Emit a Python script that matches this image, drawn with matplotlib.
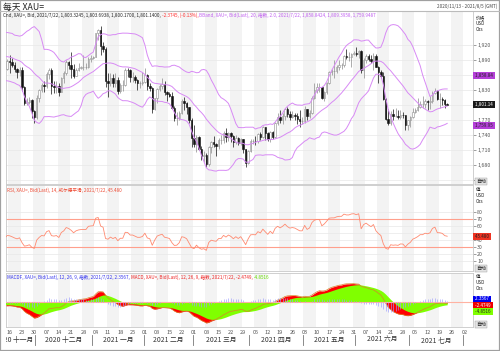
import numpy as np
import pandas as pd
from matplotlib import pyplot as plt
from matplotlib.patches import Rectangle
from matplotlib.lines import Line2D
from matplotlib.ticker import FuncFormatter

plt.rcParams['font.family'] = ['Noto Sans CJK SC', 'DejaVu Sans']

# ---- data: XAU= daily bars ----
# closes before the visible window (2020-09-01 .. 2020-11-12), only used to seed the indicators
warmup_close = [1970, 1944, 1930, 1934, 1932, 1930, 1947, 1946, 1940, 1956, 1954, 1960, 1943, 1950,
                1912, 1900, 1863, 1868, 1861, 1881, 1898, 1886,
                1906, 1900, 1913, 1877, 1887, 1893, 1930, 1922, 1891, 1901, 1908, 1899, 1905, 1906,
                1924, 1904, 1902, 1902, 1908, 1877, 1868, 1878,
                1894, 1909, 1904, 1949, 1951, 1862, 1877, 1866, 1873]
first_day = '2020-11-13'
last_day = '2021-08-05'

open_ = [1873, 1889, 1887, 1880, 1872, 1866, 1871, 1837, 1805, 1807, 1811, 1788,
         1776, 1815, 1830, 1841, 1838, 1863, 1870, 1839, 1836, 1839, 1827, 1854, 1864, 1886, 1881, 1872,
         1859, 1870, 1875, 1877, 1877, 1877, 1893,
         1895, 1896, 1944, 1950, 1918, 1913, 1849, 1844, 1855, 1845, 1851, 1828, 1840, 1840, 1871, 1870,
         1856, 1856, 1850, 1844, 1844,
         1847, 1860, 1838, 1834, 1793, 1814, 1833, 1838, 1842, 1826, 1823, 1819, 1794, 1774, 1775, 1784,
         1808, 1805, 1797, 1770,
         1734, 1723, 1737, 1713, 1698, 1700, 1683, 1716, 1727, 1722, 1719, 1731, 1731, 1745, 1736, 1745,
         1738, 1726, 1734, 1725, 1732, 1712, 1685,
         1708, 1728, 1729, 1728, 1743, 1737, 1756, 1744, 1732, 1747, 1736, 1764, 1777, 1770, 1779, 1793,
         1783, 1777, 1780, 1778, 1773, 1768,
         1768, 1792, 1778, 1785, 1815, 1831, 1836, 1836, 1815, 1826, 1844, 1867, 1869, 1869, 1877, 1881,
         1881, 1898, 1896, 1896, 1903,
         1905, 1903, 1909, 1871, 1891, 1899, 1893, 1888, 1898, 1877, 1866, 1858, 1812, 1773, 1764, 1782,
         1778, 1779, 1776, 1781, 1780, 1761,
         1770, 1776, 1787, 1791, 1796, 1803, 1803, 1808, 1806, 1809, 1824, 1829, 1812, 1812, 1810, 1803.32]
high = [1892, 1900, 1894, 1886, 1875, 1876, 1876, 1839, 1815, 1817, 1812, 1790,
        1820, 1832, 1845, 1848, 1866, 1875, 1875, 1849, 1848, 1844, 1857, 1868, 1890, 1889, 1906, 1882,
        1875, 1884, 1879, 1900, 1885, 1896, 1900,
        1898, 1945, 1952, 1959, 1926, 1917, 1865, 1864, 1863, 1865, 1857, 1845, 1850, 1875, 1875, 1872,
        1867, 1860, 1853, 1849, 1866,
        1875, 1862, 1845, 1837, 1815, 1834, 1843, 1855, 1848, 1829, 1827, 1826, 1798, 1786, 1789, 1812,
        1816, 1807, 1797, 1775,
        1760, 1740, 1739, 1718, 1709, 1704, 1719, 1729, 1739, 1725, 1734, 1741, 1748, 1755, 1747, 1746,
        1741, 1740, 1737, 1735, 1732, 1713, 1710,
        1732, 1732, 1738, 1745, 1746, 1758, 1756, 1747, 1748, 1748, 1766, 1784, 1790, 1785, 1794, 1797,
        1789, 1789, 1784, 1784, 1790, 1776,
        1798, 1793, 1791, 1818, 1844, 1845, 1844, 1837, 1829, 1846, 1869, 1872, 1890, 1880, 1890, 1885,
        1900, 1913, 1906, 1905, 1909,
        1916, 1910, 1910, 1894, 1903, 1903, 1900, 1904, 1903, 1879, 1870, 1866, 1815, 1793, 1788, 1792,
        1795, 1790, 1791, 1786, 1781, 1771,
        1779, 1795, 1795, 1815, 1809, 1818, 1812, 1810, 1818, 1829, 1834, 1831, 1825, 1817, 1813, 1803.69]
low = [1871, 1864, 1876, 1866, 1855, 1859, 1829, 1801, 1800, 1803, 1775, 1764,
       1773, 1806, 1826, 1826, 1835, 1853, 1823, 1825, 1824, 1819, 1826, 1845, 1860, 1873, 1855, 1855,
       1858, 1868, 1873, 1870, 1872, 1874, 1887,
       1893, 1896, 1931, 1901, 1907, 1836, 1817, 1838, 1836, 1837, 1822, 1825, 1829, 1838, 1856, 1846,
       1846, 1845, 1831, 1834, 1840,
       1845, 1830, 1828, 1785, 1791, 1805, 1828, 1833, 1821, 1808, 1816, 1793, 1769, 1761, 1771, 1782,
       1790, 1782, 1765, 1717,
       1717, 1706, 1711, 1690, 1687, 1676, 1678, 1705, 1717, 1699, 1712, 1723, 1725, 1727, 1728, 1727,
       1717, 1723, 1721, 1720, 1705, 1677, 1683,
       1706, 1722, 1720, 1724, 1731, 1735, 1731, 1728, 1727, 1732, 1734, 1760, 1764, 1762, 1771, 1776,
       1770, 1774, 1771, 1763, 1756, 1762,
       1765, 1771, 1775, 1783, 1813, 1825, 1826, 1813, 1809, 1822, 1842, 1860, 1855, 1865, 1870, 1872,
       1877, 1892, 1889, 1877, 1900,
       1899, 1894, 1865, 1855, 1885, 1889, 1884, 1870, 1876, 1845, 1855, 1811, 1770, 1760, 1761, 1770,
       1776, 1772, 1772, 1775, 1750, 1751,
       1757, 1775, 1785, 1789, 1794, 1794, 1795, 1791, 1793, 1805, 1822, 1810, 1794, 1801, 1794, 1800.17]
close = [1889, 1887, 1880, 1872, 1866, 1871, 1837, 1805, 1807, 1811, 1788, 1776,
         1815, 1830, 1841, 1838, 1863, 1870, 1839, 1836, 1839, 1827, 1854, 1864, 1886, 1881, 1872, 1859,
         1870, 1875, 1877, 1877, 1877, 1893, 1895,
         1896, 1944, 1950, 1918, 1913, 1849, 1844, 1855, 1845, 1851, 1828, 1840, 1840, 1871, 1870, 1856,
         1856, 1850, 1844, 1844, 1847,
         1860, 1838, 1834, 1793, 1814, 1833, 1838, 1842, 1826, 1823, 1819, 1794, 1774, 1775, 1784, 1808,
         1805, 1797, 1770, 1734,
         1723, 1737, 1713, 1698, 1700, 1683, 1716, 1727, 1722, 1719, 1731, 1731, 1745, 1736, 1745, 1738,
         1726, 1734, 1725, 1732, 1712, 1685, 1708,
         1728, 1729, 1728, 1743, 1737, 1756, 1744, 1732, 1747, 1736, 1764, 1777, 1770, 1779, 1793, 1783,
         1777, 1780, 1778, 1773, 1768, 1768,
         1792, 1778, 1785, 1815, 1831, 1836, 1836, 1815, 1826, 1844, 1867, 1869, 1869, 1877, 1881, 1881,
         1898, 1896, 1896, 1903, 1905,
         1903, 1909, 1871, 1891, 1899, 1893, 1888, 1898, 1877, 1866, 1858, 1812, 1773, 1764, 1782, 1778,
         1779, 1776, 1781, 1780, 1761, 1770,
         1776, 1787, 1791, 1796, 1803, 1803, 1808, 1806, 1809, 1824, 1829, 1812, 1812, 1810, 1803, 1801.14]

last_bb = [1858.8424, 1809.3958, 1759.9487]   # upper, middle, lower
last_close = 1801.14
last_rsi = 45.480
last_macd = [2.3567, -2.4749, -4.8516]        # histogram, macd, signal
price_ticks = [1650, 1680, 1710, 1740, 1770, 1800, 1830, 1860, 1890, 1920]
rsi_ticks = [10, 20, 30, 40, 50, 60, 70, 80]
rsi_levels = [70, 30]
cn_months = ['一月', '二月', '三月', '四月', '五月', '六月', '七月', '八月', '九月', '十月', '十一月', '十二月']

W, H = 500, 351
FS = 3.3


def box(l, t, r, b):
    return [l / W, 1 - b / H, (r - l) / W, (b - t) / H]


# ---- indicators ----
c_all = pd.Series(warmup_close + close, dtype=float)
n_warm = len(warmup_close)
xa = np.arange(len(c_all)) - n_warm
mid = c_all.rolling(20).mean()
sd = c_all.rolling(20).std(ddof=0)
bb_up, bb_lo = mid + 2 * sd, mid - 2 * sd
delta = c_all.diff()
gain = delta.clip(lower=0).ewm(alpha=1 / 14, adjust=False).mean()
loss = (-delta.clip(upper=0)).ewm(alpha=1 / 14, adjust=False).mean()
rsi = 100 - 100 / (1 + gain / loss)
macd = c_all.ewm(span=12, adjust=False).mean() - c_all.ewm(span=26, adjust=False).mean()
signal = macd.ewm(span=9, adjust=False).mean()
hist = macd - signal
vis = xa >= -1

days = pd.bdate_range(first_day, last_day)
x = np.arange(len(close))
o, h, l, c = (np.array(v, dtype=float) for v in (open_, high, low, close))
mondays = [i for i, d in enumerate(days) if d.weekday() == 0]
xlim = (-0.5, len(days) - 0.5)

fig = plt.figure(figsize=(W / 100, H / 100), dpi=100)
ax_p = fig.add_axes(box(6, 11, 473, 184))
ax_r = fig.add_axes(box(6, 185, 473, 271))
ax_m = fig.add_axes(box(6, 273, 473, 327))
ax_d = fig.add_axes(box(6, 327, 473, 347))

for ax in (ax_p, ax_r, ax_m):
    ax.set_xlim(*xlim)
    for m in mondays[::2]:
        ax.axvspan(m - 0.5, m + 4.5, color='#f3f3f3', lw=0, zorder=0)
    ax.set_xticks([])
    ax.yaxis.tick_right()
    ax.tick_params(axis='y', labelsize=FS + 0.5, length=2, width=0.4, colors='#555', pad=1)
    ax.grid(axis='y', color='#e8e8e8', lw=0.5)
    ax.set_axisbelow(True)
    for s in ax.spines.values():
        s.set_color('#c8c8c8')
        s.set_linewidth(0.6)


def hide_near(ax, tags, min_px):
    # tick labels that sit under a value tag are not shown
    y0, y1 = ax.get_ylim()
    px = ax.get_position().height * H / (y1 - y0)
    for t in ax.get_yticks():
        if any(abs(t - v) * px < min_px for v in tags) or (t - y0) * px < 6:
            ax.yaxis.get_major_ticks()[list(ax.get_yticks()).index(t)].label2.set_visible(False)


# ---- price panel ----
ax_p.set_ylim(1642, 1989)
ax_p.set_yticks(price_ticks)
ax_p.yaxis.set_major_formatter(FuncFormatter(lambda v, p: f'{v:,.0f}'))
up = c >= o
ax_p.vlines(x[up], l[up], h[up], color='#8c8c8c', lw=0.5, zorder=2)
ax_p.vlines(x[~up], l[~up], h[~up], color='#111111', lw=0.5, zorder=2)
ax_p.bar(x[up], c[up] - o[up], bottom=o[up], width=0.6, color='white', edgecolor='#8c8c8c', lw=0.4, zorder=3)
ax_p.bar(x[~up], o[~up] - c[~up], bottom=c[~up], width=0.6, color='#111111', edgecolor='#111111', lw=0.4, zorder=3)
for band in (bb_up, mid, bb_lo):
    ax_p.plot(xa[vis], band[vis], color='#d88af5', lw=0.7, zorder=4)
hide_near(ax_p, [last_bb[0], last_bb[2], last_close], 4.5)

# ---- RSI panel ----
ax_r.set_ylim(-4, 118.5)
ax_r.set_yticks(rsi_ticks)
for lev in rsi_levels:
    ax_r.axhline(lev, color='#ff9f8c', lw=0.8, zorder=2)
ax_r.plot(xa[vis], rsi[vis], color='#ff8a70', lw=0.6, zorder=3)
hide_near(ax_r, [last_rsi], 3.5)

# ---- MACD panel ----
ax_m.set_ylim(-44, 51)
ax_m.set_yticks([])
ax_m.fill_between(xa[vis], 0, macd[vis], color='#ff0000', lw=0, zorder=2)
ax_m.fill_between(xa[vis], 0, signal[vis], color='#80ff00', lw=0, zorder=3)
ax_m.plot(xa[vis], macd[vis], color='#d9822b', lw=0.5, zorder=4)
ax_m.vlines(xa[vis], 0, hist[vis], color='#9c9cff', lw=0.45, zorder=5)
ax_m.axhline(0, color='#ffb2a2', lw=0.8, zorder=4)


# ---- right side tags ----
def tag(ax, y, text, fc, tc, dy=0.0):
    ax.annotate(f' {text} ', xy=(1, y), xycoords=('axes fraction', 'data'), xytext=(0.8, dy),
                textcoords='offset points', fontsize=FS, color=tc, va='center', ha='left',
                bbox=dict(boxstyle='square,pad=0.2', fc=fc, ec='none'), annotation_clip=False, zorder=10)


tag(ax_p, last_bb[0], f'{last_bb[0]:,.2f}', '#b440d8', '#222')
tag(ax_p, last_bb[2], f'{last_bb[2]:,.2f}', '#b440d8', '#222')
tag(ax_p, last_close, f'{last_close:,.2f}', '#1a1a1a', 'white')
tag(ax_r, last_rsi, f'{last_rsi:.3f}', '#ee3322', '#222')
tag(ax_m, last_macd[0], f'{last_macd[0]:.4f}', '#0000ee', 'white', 1.2)
tag(ax_m, last_macd[1], f'{last_macd[1]:.4f}', '#ee0000', 'white', -1.6)
tag(ax_m, last_macd[2], f'{last_macd[2]:.4f}', '#80ff00', '#222', -4.9)

for ax, name in ((ax_p, '价格'), (ax_r, '值'), (ax_m, '值')):
    ax.text(1.006, 0.975, f'{name}\nUSD\nOzs', transform=ax.transAxes, fontsize=FS, va='top',
            ha='left', color='#222', linespacing=1.25)
    ax.text(1.006, 0.0, '自动', transform=ax.transAxes, fontsize=FS + 0.3, va='bottom', ha='left',
            color='#222', bbox=dict(boxstyle='square,pad=0.2', fc='#e4e4e4', ec='#999', lw=0.3))


# ---- headers ----
def header(ax, x_px, y_px, parts):
    prev = fig.text(x_px / W, 1 - y_px / H, parts[0][0], color=parts[0][1], fontsize=FS,
                    va='center', ha='left')
    for txt, col in parts[1:]:
        prev = ax.annotate(txt, xy=(1, 0), xycoords=prev, va='bottom', ha='left', fontsize=FS,
                           color=col, annotation_clip=False)


header(ax_p, 3, 15, [('Cnd, XAU=, Bid, 2021/7/22, 1,803.3245, 1,803.6938, 1,800.1700, 1,801.1400, ', '#222'),
                     ('-2.3745, (-0.13%), ', '#ff2a2a'),
                     ('BBand, XAU=, Bid(Last), 20, 指数, 2.0, 2021/7/22, 1,858.8424, 1,809.3958, 1,759.9487',
                      '#c05ef0')])
header(ax_r, 7, 190, [('RSI, XAU=, Bid(Last), 14, 威尔德平滑, 2021/7/22, 45.480', '#ee4a33')])
header(ax_m, 7, 277, [('MACDF, XAU=, Bid(Last), 12, 26, 9, 指数, 2021/7/22, 2.3567, ', '#3333ee'),
                      ('MACD, XAU=, Bid(Last), 12, 26, 9, 指数, 2021/7/22, -2.4749, ', '#ee2222'),
                      ('-4.8516', '#66dd00')])

# ---- date axis ----
ax_d.set_xlim(*xlim)
ax_d.set_ylim(0, 1)
ax_d.axis('off')
for m in mondays:
    ax_d.text(m, 0.75, days[m].strftime('%d'), ha='center', va='center', fontsize=FS + 0.7,
              color='#555', clip_on=True)
span = pd.bdate_range('2020-11-06', '2021-07-30')
pos = np.arange(len(span)) - span.get_loc(pd.Timestamp(first_day))
months = pd.DataFrame({'pos': pos, 'y': span.year, 'm': span.month}).groupby(['y', 'm'])['pos']
for (yr, mo), p in months:
    ax_d.text((p.min() + p.max()) / 2, 0.36, f'{yr} {cn_months[mo - 1]}', ha='center', va='center',
              fontsize=FS + 1.6, color='#333', clip_on=True)
month_starts = [i for i in range(1, len(days)) if days[i].month != days[i - 1].month]
for s in month_starts:
    ax_d.plot([s - 0.5] * 2, [0.1, 0.6], color='#777', lw=0.6, clip_on=True)

# ---- frame and title ----
fig.text(3 / W, 1 - 7 / H, '每天 XAU=', fontsize=6.3, color='#222', va='center', ha='left')
fig.text(497 / W, 1 - 6 / H, '2020/11/13 - 2021/8/5 (GMT)', fontsize=FS, color='#444', va='center', ha='right')
fig.add_artist(Line2D([0, 1], [1 - 10.5 / H] * 2, color='#bbbbbb', lw=0.8, transform=fig.transFigure))
fig.add_artist(Rectangle((0, 0), 1, 1, transform=fig.transFigure, fill=False, ec='#a0a0a0', lw=1.6))

fig.savefig('out.png', dpi=100)
